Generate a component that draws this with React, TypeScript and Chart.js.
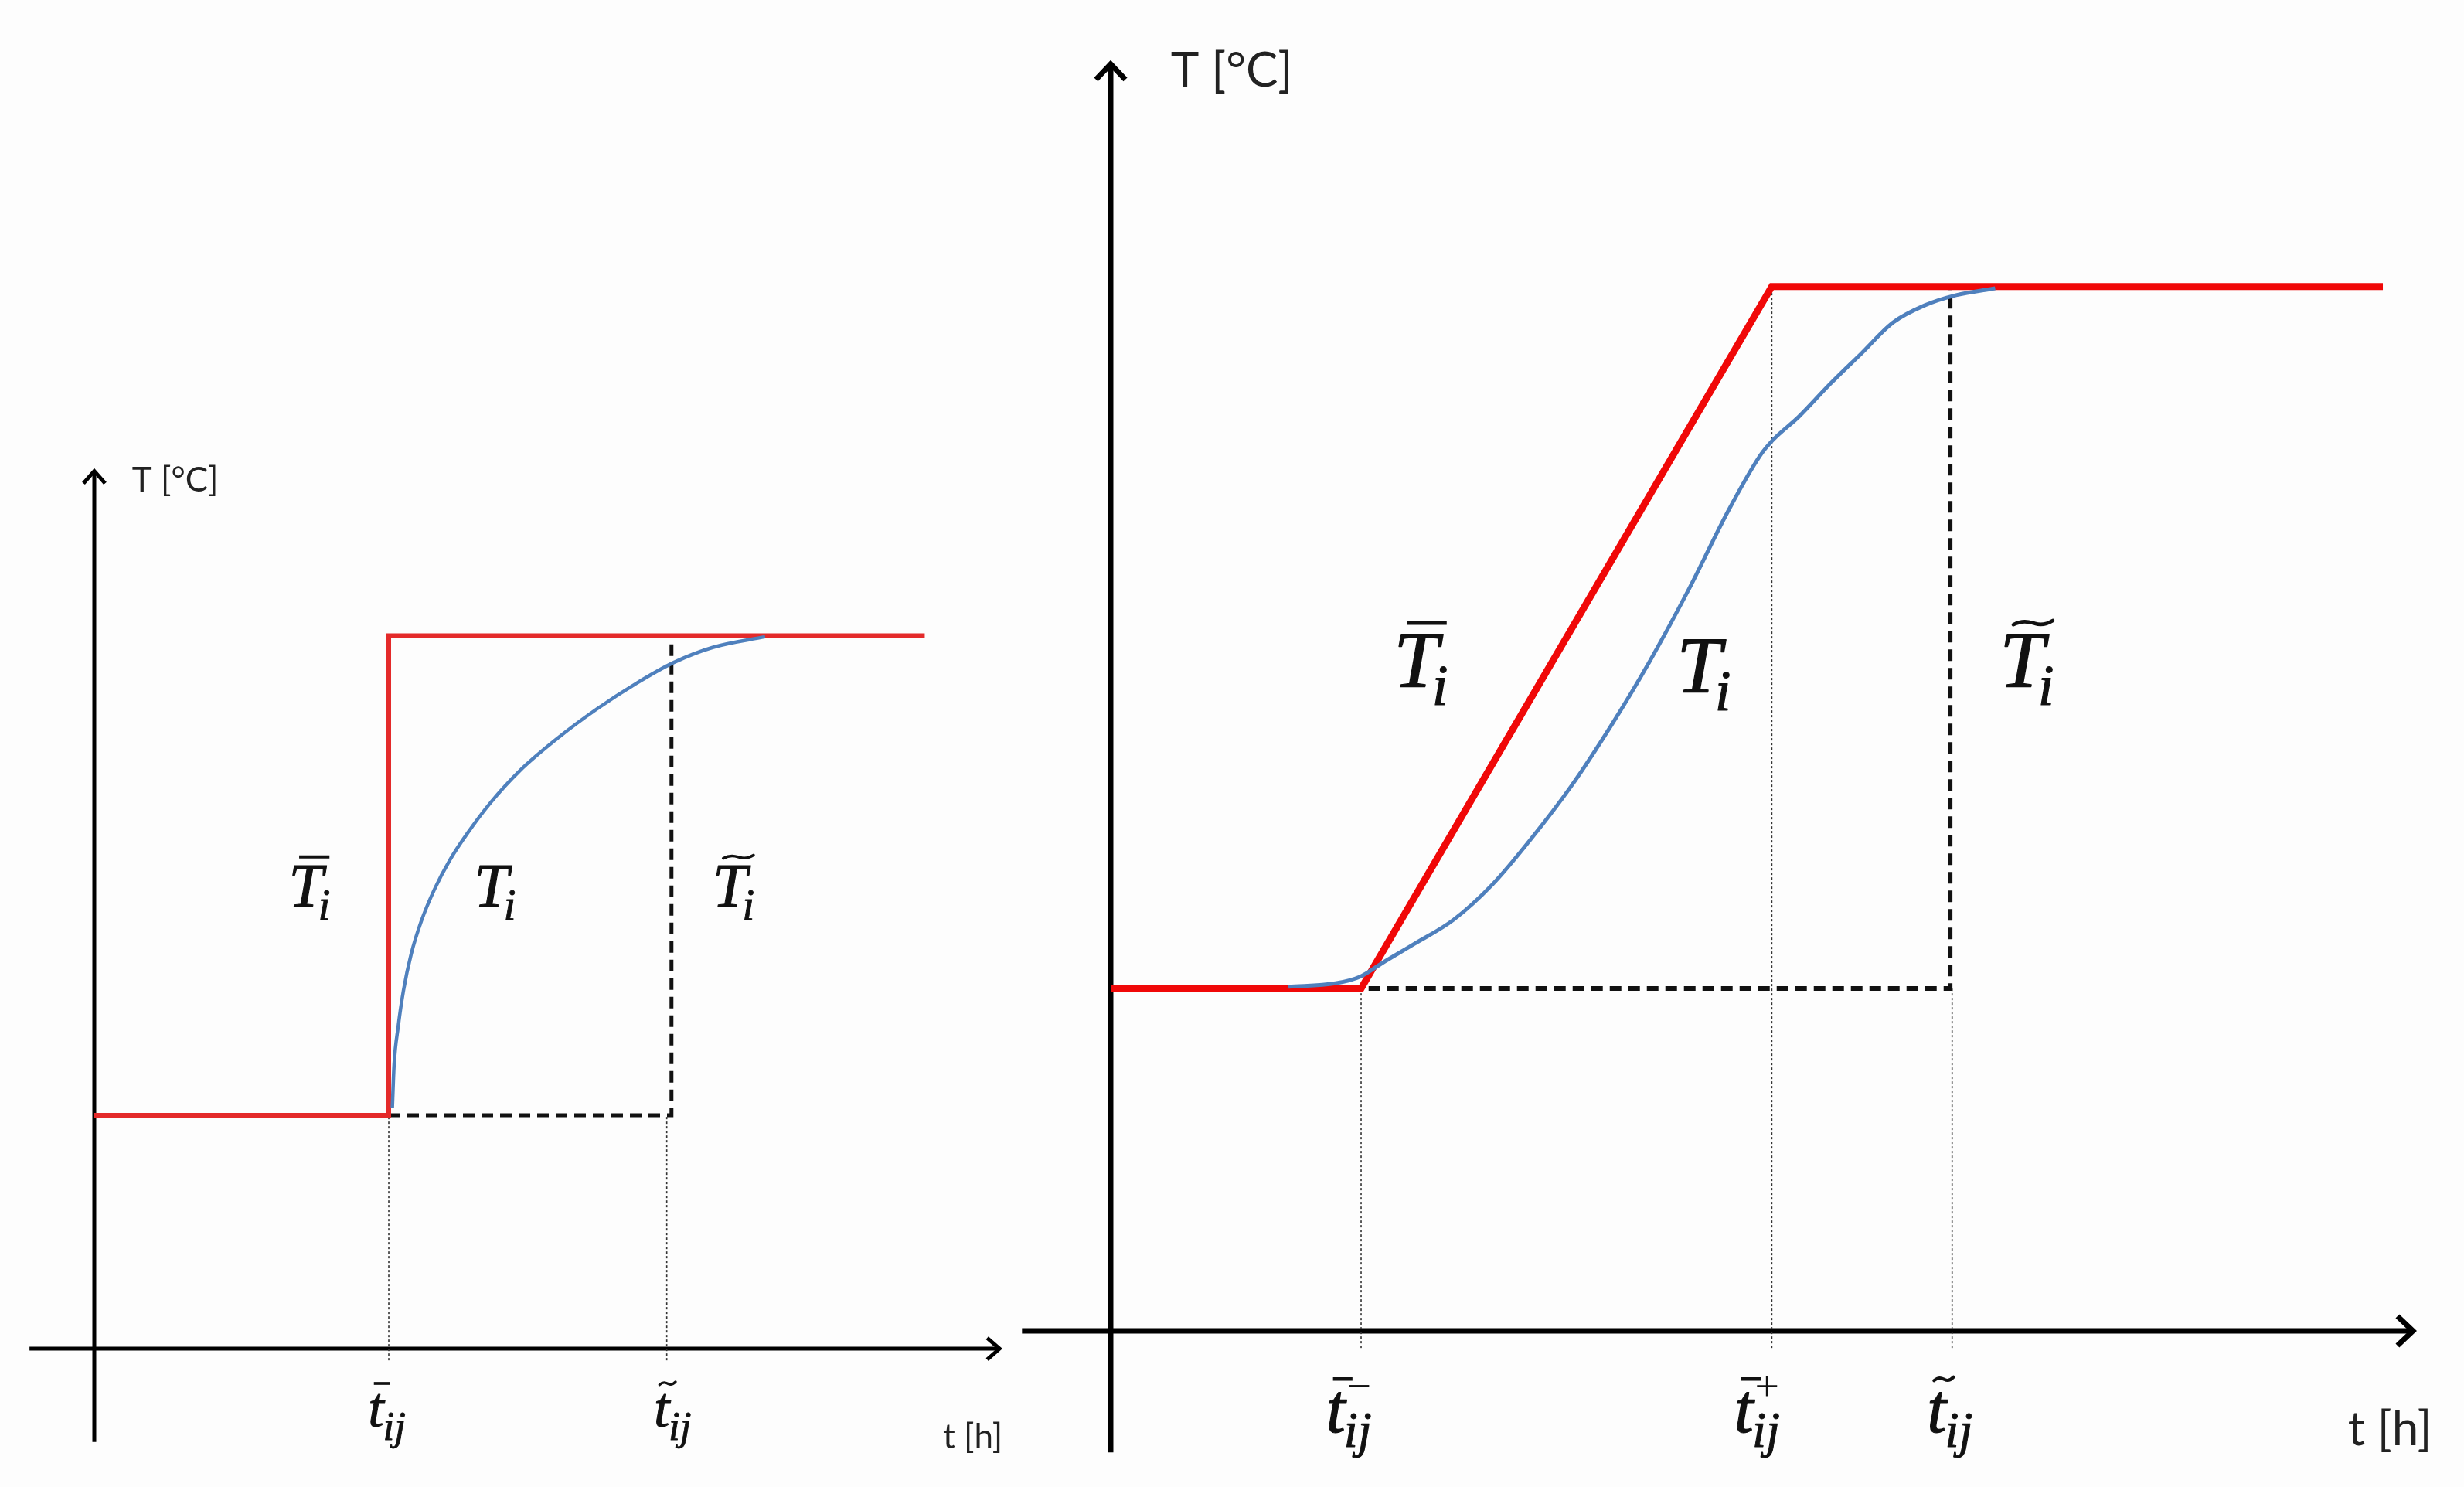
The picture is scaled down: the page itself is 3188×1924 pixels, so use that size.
import React, { useEffect, useRef } from "react";
import { Chart, registerables } from "chart.js";
Chart.register(...registerables);

// ---------- LEFT PANEL DATA (t in h, T in °C, schematic units) ----------
const L_RED_T = [0, 5, 5, 14.1];
const L_RED_V = [20, 20, 61.1, 61.1];
const L_BLUE_T = [5.06, 5.09, 5.16, 5.25, 5.38, 5.55, 5.77, 6.04, 6.34, 6.73, 7.22, 7.89, 8.53, 9.2, 9.84, 10.51, 11.39];
const L_BLUE_V = [20.6, 24.3, 27.6, 30.7, 33.8, 36.6, 39.3, 41.9, 44.2, 46.8, 49.5, 52.4, 54.8, 57.0, 58.8, 60.1, 61.0];
const L_DASH_T = [5, 9.8, 9.8];
const L_DASH_V = [20, 20, 61.1];
const L_DOT_T = [5, 9.72];
const L_DOT_TOP = [20, 20];
const L_DOT_BOTTOM = -1;
const L_X_RANGE = [-1.601, 15.459];
const L_Y_RANGE = [-11.85, 115.56];
const L_XAXIS = [-1.1, 15.37];
const L_YAXIS = [-8.0, 75.2];

// ---------- RIGHT PANEL DATA ----------
const R_RED_T = [0, 5, 13.2, 25.4];
const R_RED_V = [20, 20, 61, 61];
const R_BLUE_T = [3.55, 4.49, 4.99, 5.43, 6.06, 6.84, 7.63, 8.41, 9.19, 9.98, 10.76, 11.54, 12.33, 12.96, 13.21, 13.74, 14.36, 14.99, 15.62, 16.25, 16.88, 17.66];
const R_BLUE_V = [20.1, 20.3, 20.7, 21.5, 22.6, 24.0, 26.1, 28.8, 31.8, 35.3, 39.1, 43.3, 47.9, 51.1, 52.0, 53.4, 55.3, 57.1, 58.9, 59.9, 60.5, 60.9];
const R_DASH_T = [5.15, 16.76, 16.76];
const R_DASH_V = [20, 20, 61];
const R_DOT_T = [5, 13.2, 16.8];
const R_DOT_TOP = [20, 61, 20];
const R_DOT_BOTTOM = -1;
const R_X_RANGE = [-2.114, 27.02];
const R_Y_RANGE = [-9.12, 77.74];
const R_XAXIS = [-1.77, 26.0];
const R_YAXIS = [-7.1, 74.0];

// ---------- LABELS ----------
// math labels: [base, accent, sub, sup, t, T]
const L_MATH: [string, string, string, string, number, number][] = [
  ["T", "bar", "i", "", 3.3, 37.9],
  ["T", "", "i", "", 6.45, 37.9],
  ["T", "tilde", "i", "", 10.5, 37.9],
  ["t", "bar", "ij", "", 4.65, -6.7],
  ["t", "tilde", "ij", "", 9.5, -6.7],
];
const R_MATH: [string, string, string, string, number, number][] = [
  ["T", "bar", "i", "", 5.65, 37.6],
  ["T", "", "i", "", 11.3, 37.3],
  ["T", "tilde", "i", "", 17.75, 37.6],
  ["t", "bar", "ij", "\u2212", 4.3, -5.9],
  ["t", "bar", "ij", "+", 12.45, -5.9],
  ["t", "tilde", "ij", "", 16.3, -5.9],
];
const L_AXIS_TITLES: [string, number, number][] = [
  ["T [\u00B0C]", 0.64, 74.4],
  ["t [h]", 14.41, -7.6],
];
const R_AXIS_TITLES: [string, number, number][] = [
  ["T [\u00B0C]", 1.2, 73.6],
  ["t [h]", 24.7, -5.8],
];

const pts = (xs: number[], ys: number[]) => xs.map((x, i) => ({ x, y: ys[i] }));

const SERIF = "'Liberation Serif', 'DejaVu Serif', serif";

function drawMath(ctx: CanvasRenderingContext2D, x: number, y: number, base: string, accent: string, sub: string, sup: string, S: number) {
  ctx.save();
  ctx.fillStyle = "#111";
  ctx.strokeStyle = "#111";
  ctx.textBaseline = "alphabetic";
  ctx.textAlign = "left";
  ctx.lineJoin = "round";
  ctx.font = `italic ${S}px ${SERIF}`;
  ctx.lineWidth = 0.013 * S;
  ctx.fillText(base, x, y);
  ctx.strokeText(base, x, y);
  const w = ctx.measureText(base).width;
  const isCap = base === "T";
  const ay = y - (isCap ? 0.8 : 0.76) * S;
  const ax0 = x + (isCap ? 0.17 : 0.1) * S;
  const ax1 = x + (isCap ? 0.66 : 0.38) * S;
  if (accent === "bar") {
    ctx.lineWidth = 0.05 * S;
    ctx.lineCap = "butt";
    ctx.beginPath();
    ctx.moveTo(ax0, ay);
    ctx.lineTo(ax1, ay);
    ctx.stroke();
  } else if (accent === "tilde") {
    ctx.lineWidth = 0.045 * S;
    ctx.lineCap = "round";
    const a = 0.028 * S;
    const mw = ax1 - ax0;
    ctx.beginPath();
    ctx.moveTo(ax0, ay + a * 0.8);
    ctx.bezierCurveTo(ax0 + mw * 0.25, ay - a * 1.4, ax0 + mw * 0.4, ay - a * 0.4, ax0 + mw * 0.55, ay + a * 0.3);
    ctx.bezierCurveTo(ax0 + mw * 0.7, ay + a * 1.1, ax0 + mw * 0.85, ay + a * 0.6, ax1, ay - a * 1.0);
    ctx.stroke();
  }
  const sx = x + w - (isCap ? 0.08 : 0.02) * S;
  if (sub) {
    ctx.font = `italic ${0.72 * S}px ${SERIF}`;
    ctx.lineWidth = 0.011 * S;
    ctx.fillText(sub, sx, y + 0.22 * S);
    ctx.strokeText(sub, sx, y + 0.22 * S);
  }
  if (sup) {
    ctx.font = `${0.62 * S}px ${SERIF}`;
    ctx.fillText(sup, sx + 0.04 * S, y - 0.45 * S);
  }
  ctx.restore();
}

const diagramPlugin = {
  id: "diagram",
  beforeDatasetsDraw(chart: any, _args: any, o: any) {
    const ctx = chart.ctx as CanvasRenderingContext2D;
    const xs = chart.scales.x;
    const ys = chart.scales.y;
    const x0 = xs.getPixelForValue(0);
    const y0 = ys.getPixelForValue(0);
    const xa = xs.getPixelForValue(o.xAxis[0]);
    const xb = xs.getPixelForValue(o.xAxis[1]);
    const ya = ys.getPixelForValue(o.yAxis[0]);
    const yb = ys.getPixelForValue(o.yAxis[1]);
    ctx.save();
    ctx.strokeStyle = "#000";
    ctx.lineWidth = o.axisWidth;
    ctx.lineCap = "butt";
    ctx.lineJoin = "miter";
    ctx.beginPath();
    ctx.moveTo(xa, y0);
    ctx.lineTo(xb - 2, y0);
    ctx.moveTo(x0, ya);
    ctx.lineTo(x0, yb + 2);
    ctx.stroke();
    const L = o.arrowL, H = o.arrowH;
    ctx.beginPath();
    ctx.moveTo(xb - L, y0 - H);
    ctx.lineTo(xb, y0);
    ctx.lineTo(xb - L, y0 + H);
    ctx.moveTo(x0 - H, yb + L);
    ctx.lineTo(x0, yb);
    ctx.lineTo(x0 + H, yb + L);
    ctx.stroke();
    ctx.restore();
  },
  afterDatasetsDraw(chart: any, _args: any, o: any) {
    const ctx = chart.ctx as CanvasRenderingContext2D;
    const xs = chart.scales.x;
    const ys = chart.scales.y;
    for (const [base, acc, sub, sup, t, v] of o.math) {
      const S = base === "T" ? o.bigSize : o.smallSize;
      drawMath(ctx, xs.getPixelForValue(t), ys.getPixelForValue(v), base, acc, sub, sup, S);
    }
    ctx.save();
    ctx.fillStyle = "#222";
    ctx.textBaseline = "middle";
    ctx.textAlign = "left";
    o.titles.forEach(([txt, t, v]: [string, number, number], i: number) => {
      ctx.font = `${i === 0 ? o.titleSize : o.titleSize2}px Lato, 'Open Sans', sans-serif`;
      ctx.fillText(txt, xs.getPixelForValue(t), ys.getPixelForValue(v));
    });
    ctx.restore();
  },
};

type PanelCfg = {
  red: { x: number; y: number }[];
  blue: { x: number; y: number }[];
  dash: { x: number; y: number }[];
  dots: { x: number; y: number }[][];
  xr: number[];
  yr: number[];
  redW: number;
  blueW: number;
  dashW: number;
  redColor: string;
  plugin: any;
};

function makeChart(canvas: HTMLCanvasElement, p: PanelCfg) {
  const datasets: any[] = [
    { data: p.blue, borderColor: "#4f80bd", borderWidth: p.blueW, cubicInterpolationMode: "monotone", order: 0 },
    { data: p.red, borderColor: p.redColor, borderWidth: p.redW, tension: 0, order: 1 },
    { data: p.dash, borderColor: "#111", borderWidth: p.dashW, borderDash: [15, 9], tension: 0, order: 2 },
    ...p.dots.map((d) => ({ data: d, borderColor: "#333", borderWidth: 1.6, borderDash: [3, 3], order: 3 })),
  ];
  datasets.forEach((d) => {
    d.pointRadius = 0;
    d.fill = false;
    d.clip = false;
    d.borderJoinStyle = "miter";
  });
  return new Chart(canvas, {
    type: "line",
    data: { datasets },
    options: {
      animation: false,
      responsive: false,
      maintainAspectRatio: false,
      layout: { padding: 0 },
      events: [],
      scales: {
        x: { type: "linear", min: p.xr[0], max: p.xr[1], display: false },
        y: { type: "linear", min: p.yr[0], max: p.yr[1], display: false },
      },
      plugins: {
        legend: { display: false },
        tooltip: { enabled: false },
        diagram: p.plugin,
      } as any,
    },
    plugins: [diagramPlugin],
  });
}

export default function App() {
  const leftRef = useRef<HTMLCanvasElement>(null);
  const rightRef = useRef<HTMLCanvasElement>(null);
  useEffect(() => {
    const c1 = makeChart(leftRef.current!, {
      red: pts(L_RED_T, L_RED_V),
      blue: pts(L_BLUE_T, L_BLUE_V),
      dash: pts(L_DASH_T, L_DASH_V),
      dots: L_DOT_T.map((t, i) => [{ x: t, y: L_DOT_BOTTOM }, { x: t, y: L_DOT_TOP[i] }]),
      xr: L_X_RANGE,
      yr: L_Y_RANGE,
      redW: 6,
      blueW: 4.5,
      dashW: 5,
      redColor: "#e42a2a",
      plugin: {
        xAxis: L_XAXIS, yAxis: L_YAXIS, axisWidth: 5, arrowL: 16, arrowH: 14,
        math: L_MATH, titles: L_AXIS_TITLES, bigSize: 80, smallSize: 74, titleSize: 44, titleSize2: 44,
      },
    });
    const c2 = makeChart(rightRef.current!, {
      red: pts(R_RED_T, R_RED_V),
      blue: pts(R_BLUE_T, R_BLUE_V),
      dash: pts(R_DASH_T, R_DASH_V),
      dots: R_DOT_T.map((t, i) => [{ x: t, y: R_DOT_BOTTOM }, { x: t, y: R_DOT_TOP[i] }]),
      xr: R_X_RANGE,
      yr: R_Y_RANGE,
      redW: 9,
      blueW: 5,
      dashW: 6,
      redColor: "#f00808",
      plugin: {
        xAxis: R_XAXIS, yAxis: R_YAXIS, axisWidth: 7, arrowL: 20, arrowH: 19,
        math: R_MATH, titles: R_AXIS_TITLES, bigSize: 104, smallSize: 90, titleSize: 62, titleSize2: 62,
      },
    });
    return () => {
      c1.destroy();
      c2.destroy();
    };
  }, []);
  return (
    <div style={{ position: "absolute", left: 0, top: 0, width: 3188, height: 1924, background: "#fdfdfd", overflow: "hidden" }}>
      <canvas ref={leftRef} width={1300} height={1924} style={{ position: "absolute", left: 0, top: 0, width: 1300, height: 1924 }} />
      <canvas ref={rightRef} width={1888} height={1924} style={{ position: "absolute", left: 1300, top: 0, width: 1888, height: 1924 }} />
    </div>
  );
}
